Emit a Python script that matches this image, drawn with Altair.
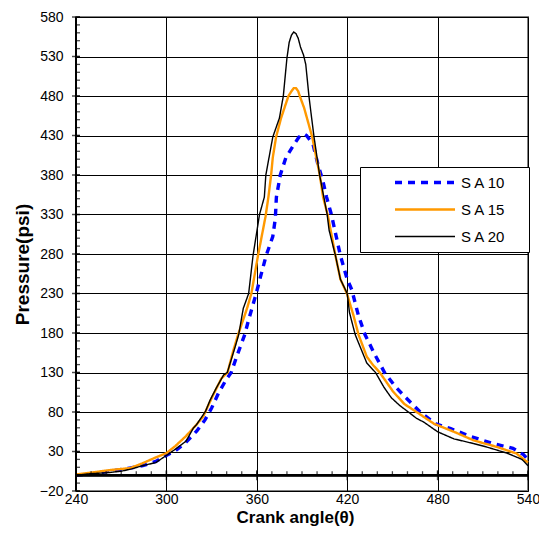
import altair as alt
import pandas as pd

# ---- data ----
sa10_theta = [240, 250, 262.6, 275.6, 284.3, 293, 299.5, 306, 312.6, 320.2, 325.6, 330, 334.6, 340, 343,
              347, 352, 354.2, 359.6, 362.3, 366.2, 370.6, 372.3, 373, 375.6, 379.3, 384.8, 388, 391.4, 393,
              397.3, 400.5, 403.8, 406.3, 409.5, 415.5, 420, 423, 427.4, 431.8, 438.4, 444.8, 452, 459, 469,
              478.8, 488.7, 501.8, 517, 530, 537, 540]
sa10_p = [0, 1.6, 5, 9, 12, 17.5, 24.5, 31, 41, 56, 70, 85, 104, 122, 130,
          152, 178, 194, 230, 250, 278, 302, 325, 352, 380, 402, 419, 428, 432, 430,
          419, 394, 373, 352, 330, 278, 248, 235, 202.5, 178, 152.5, 130, 112, 98, 79,
          65, 59, 49, 40, 34, 26, 20]

sa15_theta = [240, 247, 263, 276, 284, 293, 300, 306, 313, 320, 324.5, 330, 336.5, 340.6, 344.3, 347.6,
              353.5, 356.4, 360.8, 365.8, 367.7, 369.5, 370.6, 372.8, 376.1, 381, 383, 384.5, 386, 387.5,
              388.5, 391.4, 396.8, 399.5, 401.8, 404, 407.3, 412.2, 415.5, 419.8, 424.2, 427.5, 433, 436.9,
              441.6, 450.4, 458, 466.8, 477.7, 490.8, 504, 519, 532.3, 540]
sa15_p = [1, 2.5, 6.6, 9, 15, 22.5, 28, 37, 49.5, 64, 74.5, 97.5, 122.5, 130, 157, 178,
          211, 230, 278, 327.5, 352, 380, 402, 428, 452, 480, 486, 490, 490, 486,
          480, 465, 428, 402, 380, 352, 327.5, 278, 248, 230, 202, 178, 150, 140,
          130, 106, 90, 79, 65, 55, 44, 36, 27.5, 16]

sa20_theta = [240, 250, 260, 270, 277, 284, 293, 300, 306, 313, 318, 320, 326, 329, 333, 338, 340.4,
              345.4, 348, 351, 354.6, 357.5, 361.8, 365, 366, 370.6, 375, 377.6, 380, 381.5, 383, 384.5,
              386, 387.5, 389, 391, 392.5, 394.6, 396.4, 398, 401.7, 404.5, 406.7, 408, 412.2, 415.5, 420,
              421.5, 425.3, 427, 433, 438.8, 444.5, 449.3, 455, 461.3, 466, 471, 480, 490.8, 504, 512,
              519, 526, 532.3, 536, 540]
sa20_p = [0, 2, 3, 5, 8, 12, 16, 25, 33, 43, 60, 64, 81, 95, 110, 127, 130,
          161, 178, 211, 230, 278, 330, 352, 380, 428, 452, 480, 528, 548, 557, 561,
          559, 553, 542, 532, 520, 480, 452, 428, 380, 352, 330, 310, 278, 248, 230,
          206, 178, 170, 142, 130, 111, 98, 88, 79, 72, 67, 55, 46, 40, 36,
          32, 28, 23, 20, 12]

series_names = ["S A 10", "S A 15", "S A 20"]
series_colors = ["#0000FF", "#FF9900", "#000000"]
series_dash = [[7, 6], [1, 0], [1, 0]]
series_width = [3.4, 1.4, 1.4]

x_major = [240, 300, 360, 420, 480, 540]
x_minor = list(range(240, 541, 10))
y_major = list(range(-20, 581, 50))
y_minor = list(range(-20, 581, 10))

rows = []
for name, th, pp in [(series_names[0], sa10_theta, sa10_p),
                     (series_names[1], sa15_theta, sa15_p),
                     (series_names[2], sa20_theta, sa20_p)]:
    for i, (t, p) in enumerate(zip(th, pp)):
        rows.append({"theta": t, "p": p, "series": name, "order": i})
df = pd.DataFrame(rows)

W, H = 452, 474
FONT = "Liberation Sans"
# non-breaking spaces kept (not trimmed) by a trailing zero-width space: widens the legend box
SPACER = "\u00a0" * 4 + "\u200b"
xscale = alt.Scale(domain=[240, 540], nice=False, zero=False)
yscale = alt.Scale(domain=[-20, 580], nice=False, zero=False)

lines = alt.Chart(df).mark_line(interpolate="linear").encode(
    x=alt.X("theta:Q", scale=xscale,
            axis=alt.Axis(orient="bottom", values=x_major, grid=True, gridColor="#000000",
                          gridWidth=1, ticks=False, domain=False, labelFontSize=14,
                          labelFont=FONT, labelColor="#000000", labelPadding=1,
                          labelFlush=False, labelOverlap=False, title="Crank angle(θ)",
                          titleFont=FONT, titleFontSize=17, titleFontWeight="bold",
                          titleColor="#000000", titleX=219, titleY=26,
                          titleBaseline="middle", titleAlign="center")),
    y=alt.Y("p:Q", scale=yscale,
            axis=alt.Axis(orient="left", values=y_major, grid=True, gridColor="#000000",
                          gridWidth=1, ticks=False, domain=False, labelFontSize=14,
                          labelFont=FONT, labelColor="#000000", labelPadding=13,
                          labelOverlap=False, title="Pressure(psi)", titleFont=FONT,
                          titleFontSize=19, titleFontWeight="bold", titleColor="#000000",
                          titleX=-54, titleY=247, titleBaseline="middle", titleAlign="center",
                          titleAngle=270)),
    color=alt.Color("series:N", scale=alt.Scale(domain=series_names, range=series_colors),
                    legend=alt.Legend(orient="none", legendX=284, legendY=150, title=None,
                                      strokeColor="#000000", fillColor="#FFFFFF", padding=6,
                                      symbolType="stroke", symbolSize=3600, symbolOffset=27,
                                      clipHeight=19, labelOffset=4, labelFontSize=15,
                                      labelFont=FONT, labelColor="#000000", rowPadding=8,
                                      labelExpr="datum.label + '" + SPACER + "'")),
    strokeDash=alt.StrokeDash("series:N", scale=alt.Scale(domain=series_names, range=series_dash),
                              legend=None),
    strokeWidth=alt.StrokeWidth("series:N", scale=alt.Scale(domain=series_names, range=series_width),
                                legend=None),
    order="order:Q",
)

xminor_df = pd.DataFrame({"theta": x_minor})
xmajor_df = pd.DataFrame({"theta": x_major})
yminor_df = pd.DataFrame({"p": y_minor})
ymajor_df = pd.DataFrame({"p": y_major})

zero_line = alt.Chart(xmajor_df).mark_rule(color="#000000", strokeWidth=2).encode(
    y=alt.Y(datum=0, scale=yscale, axis=None))
left_line = alt.Chart(ymajor_df).mark_rule(color="#000000", strokeWidth=2).encode(
    x=alt.X(datum=240, scale=xscale, axis=None))

x_minor_ticks = alt.Chart(xminor_df).mark_tick(
    orient="vertical", size=4, thickness=1.3, color="#000000", yOffset=-2).encode(
    x=alt.X("theta:Q", scale=xscale, axis=None), y=alt.Y(datum=0, scale=yscale, axis=None))
x_major_ticks = alt.Chart(xmajor_df).mark_tick(
    orient="vertical", size=10, thickness=1.5, color="#000000").encode(
    x=alt.X("theta:Q", scale=xscale, axis=None), y=alt.Y(datum=0, scale=yscale, axis=None))
y_minor_ticks = alt.Chart(yminor_df).mark_tick(
    orient="horizontal", size=4, thickness=1.3, color="#000000", xOffset=2).encode(
    y=alt.Y("p:Q", scale=yscale, axis=None), x=alt.X(datum=240, scale=xscale, axis=None))
y_major_ticks = alt.Chart(ymajor_df).mark_tick(
    orient="horizontal", size=8, thickness=1.5, color="#000000").encode(
    y=alt.Y("p:Q", scale=yscale, axis=None), x=alt.X(datum=240, scale=xscale, axis=None))

chart = alt.layer(lines, zero_line, left_line, x_minor_ticks, x_major_ticks,
                  y_minor_ticks, y_major_ticks).resolve_axis(
    x="independent", y="independent"
).properties(
    width=W, height=H,
    autosize=alt.AutoSizeParams(type="none"),
    padding={"left": 68, "top": 9, "right": 11, "bottom": 36},
    background="#FFFFFF",
).configure_view(
    stroke="#808080", strokeWidth=2
)

chart.save("out.html", embed_options={"renderer": "svg", "actions": False})
